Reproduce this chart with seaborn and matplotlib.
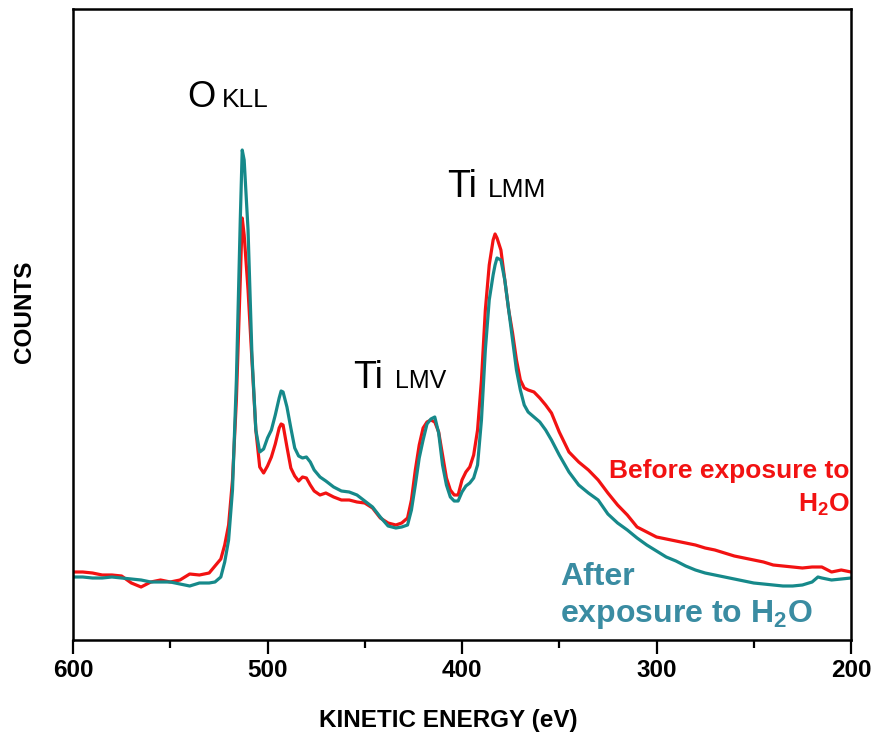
import numpy as np
import pandas as pd
import matplotlib
matplotlib.use("Agg")
import matplotlib.pyplot as plt
import seaborn as sns

# ---- data (counts in arbitrary units) ----
energy = [600, 595, 590, 585, 580, 575, 570, 565, 560, 555, 550, 545, 540, 535, 530,
          527, 524, 522, 520, 518, 516, 514, 513, 512, 510, 508, 506, 504, 502, 500,
          498, 496, 494, 493, 492, 490, 488, 486, 484, 482, 480, 478, 476, 473, 470,
          466, 462, 458, 454, 450, 446, 442, 438, 434, 431, 428, 426, 424, 422, 420,
          418, 416, 414, 412, 410, 408, 406, 404, 402, 400, 398, 396, 394, 392, 390,
          388, 386, 384, 383, 382, 380, 378, 376, 374, 372, 370, 368, 366, 363, 360,
          357, 354, 350, 345, 340, 335, 330, 325, 320, 315, 310, 305, 300, 295, 290,
          285, 280, 275, 270, 265, 260, 255, 250, 245, 240, 235, 230, 225, 220, 217,
          215, 210, 205, 200]

before_h2o = [68, 68, 67, 65, 65, 64, 57, 53, 58, 60, 58, 60, 66, 65, 67,
              74, 81, 95, 115, 160, 240, 360, 422, 405, 350, 280, 210, 173, 167, 174,
              183, 196, 212, 216, 215, 193, 172, 164, 159, 163, 162, 155, 149, 145, 147,
              143, 140, 140, 138, 137, 132, 122, 117, 115, 117, 122, 140, 170, 195, 212,
              218, 220, 218, 208, 185, 162, 150, 145, 145, 160, 168, 173, 185, 210, 260,
              330, 375, 400, 406, 402, 390, 360, 330, 307, 280, 260, 252, 250, 248, 242,
              235, 227, 208, 188, 178, 170, 160, 147, 135, 125, 113, 108, 103, 101, 99,
              97, 95, 92, 90, 87, 84, 82, 80, 78, 75, 74, 73, 72, 73, 73,
              73, 68, 70, 68]

after_h2o = [63, 63, 62, 62, 63, 62, 61, 60, 58, 58, 58, 56, 54, 57, 57,
             58, 63, 78, 100, 150, 260, 420, 490, 480, 410, 285, 210, 188, 191, 202,
             210, 225, 242, 249, 248, 233, 212, 192, 184, 182, 183, 178, 170, 163, 159,
             153, 149, 148, 145, 139, 133, 123, 114, 112, 113, 115, 130, 155, 182, 200,
             216, 221, 223, 207, 175, 155, 143, 139, 139, 148, 154, 157, 162, 175, 220,
             290, 340, 365, 375, 382, 380, 360, 330, 300, 270, 250, 235, 228, 223, 218,
             210, 200, 185, 168, 155, 147, 140, 126, 117, 110, 102, 95, 89, 83, 79,
             74, 70, 67, 65, 63, 61, 59, 57, 56, 55, 54, 54, 55, 58, 63,
             62, 60, 61, 62]

series_names = ["Before exposure to H2O", "After exposure to H2O"]
x_ticks = [600, 500, 400, 300, 200]
x_minor = [550, 450, 350, 250]

RED = "#F21212"
TEAL_LINE = "#16898A"
TEAL_TEXT = "#3A8CA2"

df = pd.concat([
    pd.DataFrame({"energy": energy, "counts": before_h2o, "sample": series_names[0]}),
    pd.DataFrame({"energy": energy, "counts": after_h2o, "sample": series_names[1]}),
])

sns.set_theme(style="ticks")
plt.rcParams["font.family"] = ["Liberation Sans", "DejaVu Sans"]
plt.rcParams["text.color"] = "black"
plt.rcParams["axes.labelcolor"] = "black"
plt.rcParams["xtick.color"] = "black"
plt.rcParams["mathtext.fontset"] = "custom"
plt.rcParams["mathtext.rm"] = "Liberation Sans"
plt.rcParams["mathtext.bf"] = "Liberation Sans:bold"

fig = plt.figure(figsize=(8.75, 7.41), dpi=100)
ax = fig.add_axes([73 / 875, 101 / 741, 778 / 875, 631 / 741])

sns.lineplot(data=df, x="energy", y="counts", hue="sample", sort=False,
             palette={series_names[0]: RED, series_names[1]: TEAL_LINE},
             linewidth=2.3, legend=False, ax=ax)

ax.set_xlim(600, 200)
ax.set_ylim(0, 631)
ax.set_xticks(x_ticks)
ax.set_xticks(x_minor, minor=True)
ax.set_xticklabels([str(t) for t in x_ticks], fontsize=17.5, fontweight="bold", color="black")
ax.set_yticks([])
ax.tick_params(axis="x", which="major", length=10, width=1.6, direction="out", pad=4, colors="black")
ax.tick_params(axis="x", which="minor", length=6, width=1.6, direction="out", colors="black")
for s in ax.spines.values():
    s.set_linewidth(1.8)
    s.set_color("black")

ax.set_xlabel("KINETIC ENERGY (eV)", fontsize=17.5, fontweight="bold", color="black")
ax.set_ylabel("COUNTS", fontsize=17.5, fontweight="bold", color="black")
ax.xaxis.set_label_coords((448 - 73) / 778, (640 - 720) / 631)
ax.xaxis.label.set_va("center")
ax.yaxis.set_label_coords((25 - 73) / 778, (640 - 312) / 631)
ax.yaxis.label.set_va("center")

# peak annotations
ax.text(541.4, 533, "O", fontsize=26, va="baseline", ha="left", color="black")
ax.text(523.4, 533, "KLL", fontsize=19, va="baseline", ha="left", color="black")
ax.text(407.7, 443, "Ti", fontsize=27, va="baseline", ha="left", color="black")
ax.text(386.6, 443, "LMM", fontsize=19, va="baseline", ha="left", color="black")
ax.text(456.0, 252, "Ti", fontsize=27, va="baseline", ha="left", color="black")
ax.text(434.4, 252, "LMV", fontsize=18, va="baseline", ha="left", color="black")

# series labels
ax.text(200.6, 162, "Before exposure to", color=RED, fontsize=19,
        fontweight="bold", ha="right", va="baseline")
ax.text(200.6, 128, r"H$_\mathbf{2}$O", color=RED, fontsize=19,
        fontweight="bold", ha="right", va="baseline")
ax.text(349.6, 55, "After", color=TEAL_TEXT, fontsize=23,
        fontweight="bold", ha="left", va="baseline")
ax.text(349.6, 18, r"exposure to H$_\mathbf{2}$O", color=TEAL_TEXT, fontsize=23,
        fontweight="bold", ha="left", va="baseline")

fig.savefig("out.png", dpi=100)
